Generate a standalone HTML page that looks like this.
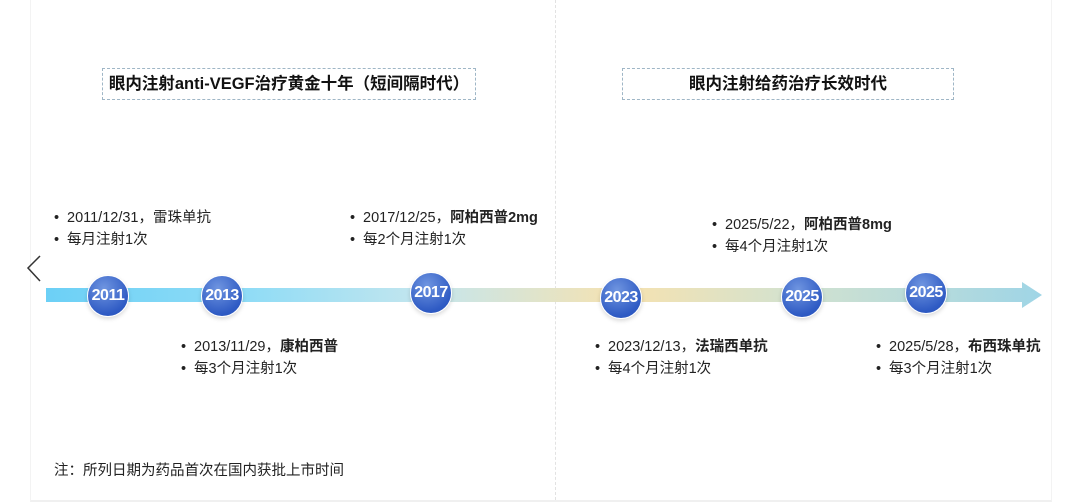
<!DOCTYPE html>
<html><head><meta charset="utf-8"><style>
body{margin:0;width:1080px;height:503px;background:#fff;position:relative;overflow:hidden;font-family:"Liberation Sans","Noto Sans CJK SC",sans-serif;color:#222}
.card{position:absolute;left:30px;top:0;width:1020px;height:500px;background:#fff;border-left:1px solid #f3f3f3;border-right:1px solid #f3f3f3;border-bottom:2px solid #f0f0f0}
.t{position:absolute;font-size:14.5px;line-height:22px;white-space:nowrap}
.t div::before{content:"•";display:inline-block;width:13px;margin-left:-13px}
.box{position:absolute;top:68px;height:30px;border:1px dashed #9fb6c6;font-weight:bold;font-size:16.5px;line-height:30px;text-align:center;color:#111}
.c{position:absolute;width:40px;height:40px;border-radius:50%;background:radial-gradient(circle at 40% 30%,#6f95e0,#2f5bc4 70%,#2450b8);border:1px solid #fff;box-shadow:0 2px 4px rgba(0,0,0,.15);color:#fff;font-weight:bold;font-size:16px;line-height:40px;text-align:center;letter-spacing:-0.5px}
</style></head><body>
<div class="card"></div>
<div style="position:absolute;left:555px;top:0;height:500px;border-left:1px dashed #e2e2e2"></div>
<div class="box" style="left:102px;width:372px">眼内注射anti-VEGF治疗黄金十年（短间隔时代）</div>
<div class="box" style="left:622px;width:330px">眼内注射给药治疗长效时代</div>
<svg style="position:absolute;left:0;top:0" width="1080" height="503">
<defs><linearGradient id="g" x1="0" x2="1"><stop offset="0" stop-color="#6cd0f6"/><stop offset=".2" stop-color="#8fdcf6"/><stop offset=".38" stop-color="#c4e6ee"/><stop offset=".58" stop-color="#f6e2b0"/><stop offset=".75" stop-color="#d3e2cf"/><stop offset="1" stop-color="#9fd5e6"/></linearGradient></defs>
<polygon points="46,288 1022,288 1022,282 1042,295 1022,308 1022,302 46,302" fill="url(#g)"/>
<polyline points="40,256 28,268 40,281" fill="none" stroke="#333" stroke-width="1.5"/>
</svg>
<div class="c" style="left:87px;top:275px">2011</div>
<div class="c" style="left:201px;top:275px">2013</div>
<div class="c" style="left:410px;top:272px">2017</div>
<div class="c" style="left:600px;top:277px">2023</div>
<div class="c" style="left:781px;top:276px">2025</div>
<div class="c" style="left:905px;top:272px">2025</div>
<div class="t" style="left:67px;top:207px"><div>2011/12/31，雷珠单抗</div><div>每月注射1次</div></div>
<div class="t" style="left:363px;top:207px"><div>2017/12/25，<b>阿柏西普2mg</b></div><div>每2个月注射1次</div></div>
<div class="t" style="left:194px;top:336px"><div>2013/11/29，<b>康柏西普</b></div><div>每3个月注射1次</div></div>
<div class="t" style="left:725px;top:214px"><div>2025/5/22，<b>阿柏西普8mg</b></div><div>每4个月注射1次</div></div>
<div class="t" style="left:608px;top:336px"><div>2023/12/13，<b>法瑞西单抗</b></div><div>每4个月注射1次</div></div>
<div class="t" style="left:889px;top:336px"><div>2025/5/28，<b>布西珠单抗</b></div><div>每3个月注射1次</div></div>
<div class="t" style="left:54px;top:460px">注：所列日期为药品首次在国内获批上市时间</div>
</body></html>
